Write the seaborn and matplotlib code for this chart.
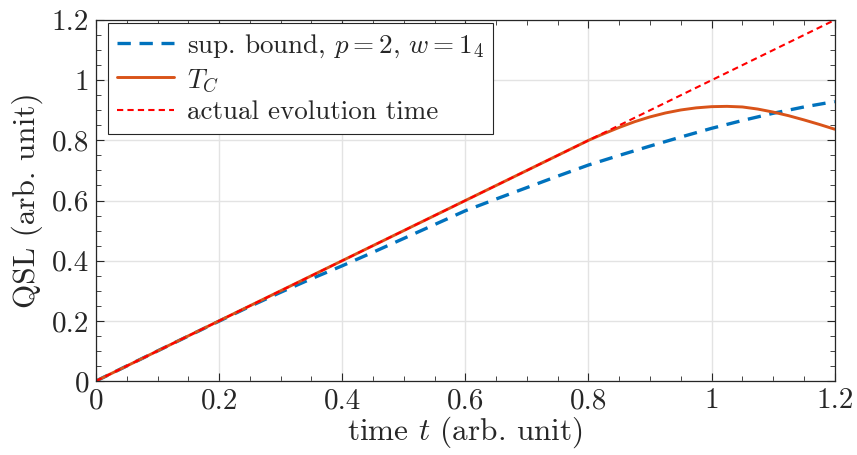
import numpy as np
import pandas as pd
import seaborn as sns
import matplotlib
matplotlib.use("Agg")
import matplotlib.pyplot as plt
from matplotlib.ticker import MultipleLocator

# ---- data ----
t_bound = [0.0, 0.1, 0.2, 0.25, 0.3, 0.35, 0.4, 0.45, 0.5, 0.55, 0.6, 0.65,
           0.7, 0.75, 0.8, 0.85, 0.9, 0.95, 1.0, 1.05, 1.1, 1.15, 1.2]
bound = [0.0, 0.1, 0.199, 0.248, 0.295, 0.34, 0.383, 0.428, 0.474, 0.52, 0.566, 0.605,
         0.643, 0.681, 0.718, 0.75, 0.781, 0.811, 0.84, 0.866, 0.89, 0.911, 0.929]

t_tc = [0.0, 0.2, 0.4, 0.6, 0.8, 0.82, 0.85, 0.875, 0.9, 0.925, 0.95, 0.975, 1.0,
        1.025, 1.05, 1.075, 1.1, 1.125, 1.15, 1.175, 1.2]
tc = [0.0, 0.2, 0.4, 0.6, 0.8, 0.818, 0.843, 0.862, 0.878, 0.891, 0.901, 0.908, 0.912,
      0.913, 0.911, 0.904, 0.894, 0.882, 0.868, 0.853, 0.837]

t_actual = [0.0, 1.2]
actual = [0.0, 1.2]

xticks = [0, 0.2, 0.4, 0.6, 0.8, 1, 1.2]
xticklabels = ["0", "0.2", "0.4", "0.6", "0.8", "1", "1.2"]
yticks = [0, 0.2, 0.4, 0.6, 0.8, 1, 1.2]
yticklabels = ["0", "0.2", "0.4", "0.6", "0.8", "1", "1.2"]

labels = [r"sup. bound, $p=2$, $w=1_4$", r"$T_C$", "actual evolution time"]

sns.set_theme(style="white")
plt.rcParams["font.family"] = ["cmr10", "DejaVu Serif"]
plt.rcParams["mathtext.fontset"] = "cm"
plt.rcParams["axes.formatter.use_mathtext"] = True

fig = plt.figure(figsize=(8.57, 4.55), dpi=100)
ax = fig.add_axes([0.112, 0.1626, 0.862, 0.7934])

df_b = pd.DataFrame({"t": t_bound, "v": bound})
df_c = pd.DataFrame({"t": t_tc, "v": tc})
df_a = pd.DataFrame({"t": t_actual, "v": actual})

sns.lineplot(data=df_b, x="t", y="v", ax=ax, color="#0072BD", lw=2.4,
             linestyle=(0, (4, 2.6)), label=labels[0])
sns.lineplot(data=df_c, x="t", y="v", ax=ax, color="#D95319", lw=2.1,
             label=labels[1])
sns.lineplot(data=df_a, x="t", y="v", ax=ax, color="#FF0000", lw=1.5,
             linestyle=(0, (3, 2)), label=labels[2])

ax.set_xlim(0, 1.2)
ax.set_ylim(0, 1.2)
ax.set_xticks(xticks)
ax.set_xticklabels(xticklabels)
ax.set_yticks(yticks)
ax.set_yticklabels(yticklabels)
ax.xaxis.set_minor_locator(MultipleLocator(0.05))
ax.yaxis.set_minor_locator(MultipleLocator(0.05))
ax.tick_params(which="both", direction="in", top=True, right=True,
               bottom=True, left=True, color="#262626")
ax.tick_params(which="major", length=6, width=0.8, labelsize=21, pad=5)
ax.tick_params(which="minor", length=3.5, width=0.6)
ax.grid(True, which="major", color="#e3e3e3", lw=1.0)
ax.set_axisbelow(True)
for s in ax.spines.values():
    s.set_color("#262626")
    s.set_linewidth(0.9)

ax.set_xlabel(r"time $t$ (arb. unit)", fontsize=22.5, labelpad=0, color="#262626")
ax.set_ylabel("QSL (arb. unit)", fontsize=22.5, labelpad=6, color="#262626")
for lab in ax.get_xticklabels() + ax.get_yticklabels():
    lab.set_color("#262626")

leg = ax.legend(loc="upper left", fontsize=19.5, frameon=True, fancybox=False,
                edgecolor="#262626", framealpha=1, handlelength=2.1,
                borderpad=0.35, labelspacing=0.25, handletextpad=0.45,
                bbox_to_anchor=(12 / 739, 1 - 3 / 361), borderaxespad=0.0)
leg.get_frame().set_linewidth(0.8)
for txt in leg.get_texts():
    txt.set_color("#262626")

fig.savefig("out.png", dpi=100)
